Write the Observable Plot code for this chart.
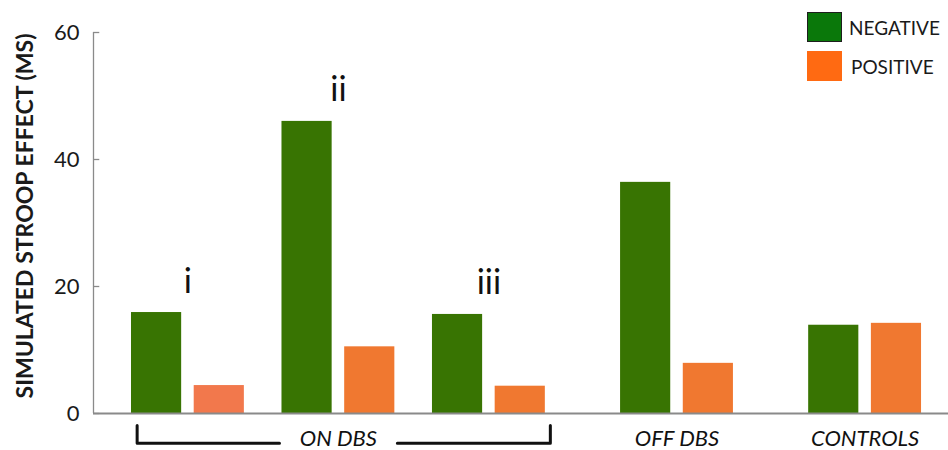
<!DOCTYPE html>
<html>
<head>
<meta charset="utf-8">
<script src="https://cdn.jsdelivr.net/npm/d3@7"></script>
<script src="https://cdn.jsdelivr.net/npm/@observablehq/plot@0.6"></script>
<style>
  html, body { margin: 0; padding: 0; background: #fff; }
  #wrap { position: relative; width: 948px; height: 450px; font-family: Lato, "DejaVu Sans", sans-serif; }
  .leg { position: absolute; display: flex; align-items: center; font-size: 19px; color: #1a1a1a; }
  .sw { width: 35px; height: 30px; box-sizing: border-box; margin-right: 7px; }
</style>
</head>
<body>
<div id="wrap">
  <div id="chart"></div>
  <div class="leg" style="left:807px; top:12px;"><div class="sw" style="background:#0a780a; border:1.5px solid #1e1e1e;"></div><span>NEGATIVE</span></div>
  <div class="leg" style="left:807px; top:51px;"><div class="sw" style="background:#ff6a12;"></div><span style="margin-left:2px">POSITIVE</span></div>
</div>
<script>
// ---- data ----
const conditions = ["ON DBS i", "ON DBS ii", "ON DBS iii", "OFF DBS", "CONTROLS"];
const clusterOf  = ["ON DBS", "ON DBS", "ON DBS", "OFF DBS", "CONTROLS"];
const subLabels  = ["i", "ii", "iii", null, null];
const negative   = [15.9, 46.0, 15.6, 36.4, 13.9];
const positive   = [4.4, 10.5, 4.3, 7.9, 14.2];
const series     = ["NEGATIVE", "POSITIVE"];
const yTicks     = [0, 20, 40, 60];
const yLabel     = "SIMULATED STROOP EFFECT (MS)";

// ---- layout (in slot units on a linear x scale) ----
const BAR = 4, INNER = 1, SAME_GAP = 3, OTHER_GAP = 6;
const PAIR = BAR * 2 + INNER;
const starts = [];
let s = 0;
conditions.forEach((c, i) => {
  if (i > 0) s += PAIR + (clusterOf[i] === clusterOf[i - 1] ? SAME_GAP : OTHER_GAP);
  starts.push(s);
});

const colors = {NEGATIVE: "#387402", POSITIVE: "#f07830"};
const bars = [];
conditions.forEach((c, i) => {
  bars.push({cond: c, series: series[0], value: negative[i], x1: starts[i], x2: starts[i] + BAR, fill: colors.NEGATIVE});
  bars.push({cond: c, series: series[1], value: positive[i], x1: starts[i] + BAR + INNER, x2: starts[i] + PAIR,
             fill: i === 0 ? "#f2784c" : colors.POSITIVE});
});

const subs = conditions.map((c, i) => ({label: subLabels[i], x: starts[i] + PAIR / 2, y: Math.max(negative[i], positive[i])}))
  .filter(d => d.label);

const clusterNames = [...new Set(clusterOf)];
const clusters = clusterNames.map(name => {
  const idx = clusterOf.map((c, i) => c === name ? i : -1).filter(i => i >= 0);
  const a = starts[idx[0]], b = starts[idx[idx.length - 1]] + PAIR;
  return {name, a, b, center: (a + b) / 2, n: idx.length};
});

// bracket for multi-member cluster
const bracketTop = -1.9, bracketBottom = -4.7, halfGap = 4.7;
const bracket = [];
clusters.filter(c => c.n > 1).forEach(c => {
  bracket.push({z: c.name + "L", x: c.a + 0.45, y: bracketTop});
  bracket.push({z: c.name + "L", x: c.a + 0.45, y: bracketBottom});
  bracket.push({z: c.name + "L", x: c.center - halfGap, y: bracketBottom});
  bracket.push({z: c.name + "R", x: c.center + halfGap, y: bracketBottom});
  bracket.push({z: c.name + "R", x: c.b + 0.4, y: bracketBottom});
  bracket.push({z: c.name + "R", x: c.b + 0.4, y: bracketTop});
});

const xDomain = [-3.03, 65.15];

const chart = Plot.plot({
  width: 948,
  height: 450,
  marginLeft: 93,
  marginRight: 0,
  marginTop: 32,
  marginBottom: 37,
  style: {fontFamily: "Lato, 'DejaVu Sans', sans-serif", fontSize: "22px", color: "#1a1a1a", background: "#fff", overflow: "visible"},
  x: {domain: xDomain, axis: null},
  y: {domain: [0, 60], ticks: yTicks, label: null},
  marks: [
    Plot.rectY(bars, {x1: "x1", x2: "x2", y: "value", fill: "fill"}),
    Plot.ruleX([xDomain[0]], {y1: 0, y2: 60, stroke: "#8a8a8a", strokeWidth: 1.3}),
    Plot.ruleY(yTicks, {x1: xDomain[0], x2: xDomain[0] + 0.5, stroke: "#8a8a8a", strokeWidth: 1.3}),
    Plot.ruleY([0], {stroke: "#8a8a8a", strokeWidth: 2}),
    Plot.axisY({ticks: yTicks, tickSize: 0, tickPadding: 14, fontSize: 22, label: null}),
    Plot.text([yLabel], {frameAnchor: "left", text: d => d, rotate: -90, dx: -68, dy: -7, textAnchor: "middle",
      lineAnchor: "middle", fontSize: 23, fontWeight: "bold", fill: "#1a1a1a"}),
    Plot.text(subs, {x: "x", y: "y", text: "label", dy: -20, lineAnchor: "bottom", fontSize: 34, fill: "#111"}),
    Plot.text(clusters, {x: "center", y: 0, text: "name", dy: 32, lineAnchor: "bottom", fontSize: 22,
      fontStyle: "italic", fill: "#111"}),
    Plot.line(bracket, {x: "x", y: "y", z: "z", stroke: "#111", strokeWidth: 3, strokeLinejoin: "round", strokeLinecap: "round"})
  ]
});
document.getElementById("chart").appendChild(chart);
</script>
</body>
</html>
